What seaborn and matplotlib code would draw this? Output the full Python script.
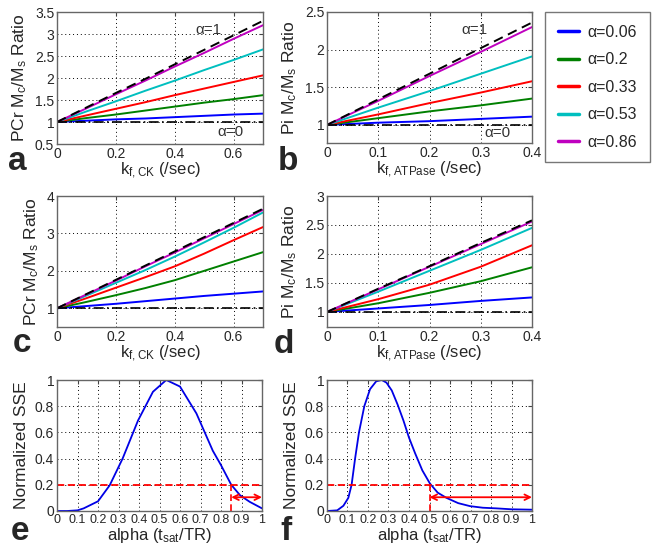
import numpy as np
import pandas as pd
import matplotlib
matplotlib.use("Agg")
import matplotlib.pyplot as plt
import seaborn as sns
from matplotlib.lines import Line2D

# DATA

alpha_labels = ["α=0.06", "α=0.2", "α=0.33", "α=0.53", "α=0.86"]
alpha_colors = [(0, 0, 1), (0, 0.5, 0), (1, 0, 0), (0, 0.75, 0.75), (0.75, 0, 0.75)]

# panel a: PCr, k_f,CK
a_x = [0, 0.1, 0.2, 0.3, 0.4, 0.5, 0.6, 0.7]
a_one = [1, 1.33, 1.66, 1.98, 2.31, 2.64, 2.97, 3.30]
a_zero = [1, 1, 1, 1, 1, 1, 1, 1]
a_series = [
    [1, 1.03, 1.06, 1.08, 1.11, 1.14, 1.17, 1.19],
    [1, 1.09, 1.17, 1.26, 1.35, 1.44, 1.52, 1.61],
    [1, 1.15, 1.30, 1.45, 1.61, 1.76, 1.91, 2.06],
    [1, 1.24, 1.47, 1.71, 1.94, 2.18, 2.41, 2.65],
    [1, 1.31, 1.63, 1.94, 2.26, 2.57, 2.89, 3.20],
]

# panel b: Pi, k_f,ATPase
b_x = [0, 0.1, 0.2, 0.3, 0.4]
b_one = [1, 1.34, 1.68, 2.02, 2.36]
b_zero = [1, 1, 1, 1, 1]
b_series = [
    [1, 1.03, 1.05, 1.08, 1.11],
    [1, 1.09, 1.18, 1.26, 1.35],
    [1, 1.14, 1.29, 1.43, 1.58],
    [1, 1.23, 1.45, 1.68, 1.91],
    [1, 1.32, 1.65, 1.97, 2.30],
]

# panel c: PCr, k_f,CK
c_x = [0, 0.1, 0.2, 0.3, 0.4, 0.5, 0.6, 0.7]
c_one = [1, 1.38, 1.76, 2.14, 2.52, 2.90, 3.28, 3.66]
c_zero = [1, 1, 1, 1, 1, 1, 1, 1]
c_series = [
    [1, 1.06, 1.12, 1.19, 1.26, 1.33, 1.39, 1.45],
    [1, 1.17, 1.35, 1.54, 1.75, 2.00, 2.25, 2.50],
    [1, 1.27, 1.55, 1.83, 2.12, 2.46, 2.82, 3.17],
    [1, 1.34, 1.68, 2.02, 2.38, 2.76, 3.15, 3.56],
    [1, 1.37, 1.74, 2.12, 2.49, 2.87, 3.25, 3.63],
]

# panel d: Pi, k_f,ATPase
d_x = [0, 0.1, 0.2, 0.3, 0.4]
d_one = [1, 1.40, 1.79, 2.19, 2.58]
d_zero = [1, 1, 1, 1, 1]
d_series = [
    [1, 1.06, 1.12, 1.19, 1.25],
    [1, 1.15, 1.33, 1.53, 1.77],
    [1, 1.22, 1.47, 1.78, 2.15],
    [1, 1.35, 1.71, 2.07, 2.45],
    [1, 1.39, 1.78, 2.17, 2.56],
]

# panel e / f: normalized SSE vs alpha
e_x = [0, 0.05, 0.1, 0.13, 0.2, 0.257, 0.32, 0.395, 0.468, 0.533, 0.6,
       0.68, 0.76, 0.8, 0.85, 0.893, 0.94, 1.0]
e_y = [0, 0, 0.005, 0.02, 0.074, 0.196, 0.4, 0.69, 0.91, 1.0, 0.95,
       0.745, 0.46, 0.35, 0.2, 0.12, 0.07, 0.02]
e_cut = 0.85

f_x = [0, 0.05, 0.08, 0.104, 0.12, 0.137, 0.156, 0.182, 0.21, 0.24, 0.267,
       0.29, 0.316, 0.345, 0.373, 0.40, 0.43, 0.465, 0.502, 0.54, 0.583,
       0.64, 0.698, 0.76, 0.828, 0.9, 1.0]
f_y = [0, 0.005, 0.04, 0.1, 0.2, 0.4, 0.6, 0.8, 0.93, 0.99, 1.0,
       0.98, 0.92, 0.81, 0.69, 0.56, 0.44, 0.31, 0.21, 0.14, 0.1,
       0.06, 0.037, 0.025, 0.02, 0.013, 0.01]
f_cut = 0.5

sse_threshold = 0.2
arrow_y = 0.105

# STYLE

sns.set_style("white")
plt.rcParams["font.family"] = ["Liberation Sans", "DejaVu Sans"]
plt.rcParams["mathtext.default"] = "regular"

W, H = 653, 552
fig = plt.figure(figsize=(W / 100, H / 100), dpi=100)


def add_ax(x0, y0, x1, y1):
    # pixel box -> figure fraction
    return fig.add_axes([x0 / W, 1 - y1 / H, (x1 - x0) / W, (y1 - y0) / H])


def style_ax(ax, xlim, ylim, xticks, yticks, xtl=None, ytl=None):
    ax.set_xlim(*xlim)
    ax.set_ylim(*ylim)
    ax.set_xticks(xticks)
    ax.set_yticks(yticks)
    if xtl is not None:
        ax.set_xticklabels(xtl)
    if ytl is not None:
        ax.set_yticklabels(ytl)
    ax.grid(True, linestyle=(0, (1, 3)), color="black", linewidth=0.7)
    ax.tick_params(direction="in", length=3, labelsize=10, pad=2,
                   top=True, right=True, color="#444444")
    for s in ax.spines.values():
        s.set_color("#666666")
        s.set_linewidth(1.0)
    ax.set_facecolor("white")


def fmt(v):
    return f"{v:g}"


def ratio_panel(ax, xs, one, zero, series, xlim, ylim, xticks, yticks, ylab, xlab):
    for vals, col in zip(series, alpha_colors):
        sns.lineplot(x=xs, y=vals, ax=ax, color=col, linewidth=1.4)
    sns.lineplot(x=xs, y=one, ax=ax, color="black", linewidth=1.4,
                 linestyle=(0, (5, 3)))
    sns.lineplot(x=xs, y=zero, ax=ax, color="black", linewidth=1.2,
                 linestyle=(0, (6, 2, 1, 2)))
    style_ax(ax, xlim, ylim, xticks, yticks,
             [fmt(t) for t in xticks], [fmt(t) for t in yticks])
    ax.set_ylabel(ylab, fontsize=12.5, labelpad=4)
    ax.set_xlabel(xlab, fontsize=12, labelpad=0)


ylab_pcr = "PCr M$_c$/M$_s$ Ratio"
ylab_pi = "Pi M$_c$/M$_s$ Ratio"
xlab_ck = "k$_{f,CK}$ (/sec)"
xlab_atp = "k$_{f,ATPase}$ (/sec)"

ax_a = add_ax(57, 12, 263, 144)
ratio_panel(ax_a, a_x, a_one, a_zero, a_series, (0, 0.7), (0.5, 3.5),
            [0, 0.2, 0.4, 0.6], [0.5, 1, 1.5, 2, 2.5, 3, 3.5], ylab_pcr, xlab_ck)
ax_a.text(0.47, 3.1, "α=1", fontsize=11, color="#333333", va="center")
ax_a.text(0.545, 0.78, "α=0", fontsize=11, color="#333333", va="center")

ax_b = add_ax(327, 12, 532, 143)
ratio_panel(ax_b, b_x, b_one, b_zero, b_series, (0, 0.4), (0.76, 2.5),
            [0, 0.1, 0.2, 0.3, 0.4], [1, 1.5, 2, 2.5], ylab_pi, xlab_atp)
ax_b.text(0.263, 2.26, "α=1", fontsize=11, color="#333333", va="center")
ax_b.text(0.308, 0.89, "α=0", fontsize=11, color="#333333", va="center")

ax_c = add_ax(57, 196, 263, 327)
ratio_panel(ax_c, c_x, c_one, c_zero, c_series, (0, 0.7), (0.5, 4),
            [0, 0.2, 0.4, 0.6], [1, 2, 3, 4], ylab_pcr, xlab_ck)

ax_d = add_ax(327, 196, 532, 327)
ratio_panel(ax_d, d_x, d_one, d_zero, d_series, (0, 0.4), (0.74, 3),
            [0, 0.1, 0.2, 0.3, 0.4], [1, 1.5, 2, 2.5, 3], ylab_pi, xlab_atp)


def sse_panel(ax, xs, ys, cut):
    sns.lineplot(x=xs, y=ys, ax=ax, color=(0, 0, 0.9), linewidth=1.3)
    ax.axhline(sse_threshold, color="red", linestyle=(0, (4, 2)), linewidth=1.3)
    ax.plot([cut, cut], [0, sse_threshold], color="red",
            linestyle=(0, (4, 2)), linewidth=1.2)
    ax.annotate("", xy=(1.0, arrow_y), xytext=(cut, arrow_y),
                arrowprops=dict(arrowstyle="<->", color="red", lw=1.3,
                                shrinkA=0, shrinkB=0))
    ticks = [round(0.1 * i, 1) for i in range(11)]
    style_ax(ax, (0, 1), (0, 1), ticks, [0, 0.2, 0.4, 0.6, 0.8, 1],
             [fmt(t) for t in ticks], ["0", "0.2", "0.4", "0.6", "0.8", "1"])
    ax.tick_params(axis="x", labelsize=9)
    ax.set_ylabel("Normalized SSE", fontsize=12.5, labelpad=4)
    ax.set_xlabel("alpha (t$_{sat}$/TR)", fontsize=12, labelpad=0)


ax_e = add_ax(57, 380, 262, 511)
sse_panel(ax_e, e_x, e_y, e_cut)

ax_f = add_ax(327, 380, 532, 511)
sse_panel(ax_f, f_x, f_y, f_cut)

# panel letters
for letter, px, py in [("a", 17, 170), ("b", 288, 170), ("c", 22, 352),
                       ("d", 284, 353), ("e", 20, 540), ("f", 286, 540)]:
    fig.text(px / W, 1 - py / H, letter, fontsize=24, fontweight="bold",
             ha="center", va="baseline")

# legend
handles = [Line2D([], [], color=c, linewidth=2.5) for c in alpha_colors]
leg = fig.legend(handles, alpha_labels, loc="upper left",
                 bbox_to_anchor=(545 / W, 1 - 12 / H), fontsize=11.5,
                 frameon=True, fancybox=False, edgecolor="#555555",
                 labelspacing=0.78, handlelength=1.3, borderpad=0.8,
                 handletextpad=0.55, borderaxespad=0)
leg.get_frame().set_linewidth(1.0)

fig.savefig("out.png", dpi=100)
